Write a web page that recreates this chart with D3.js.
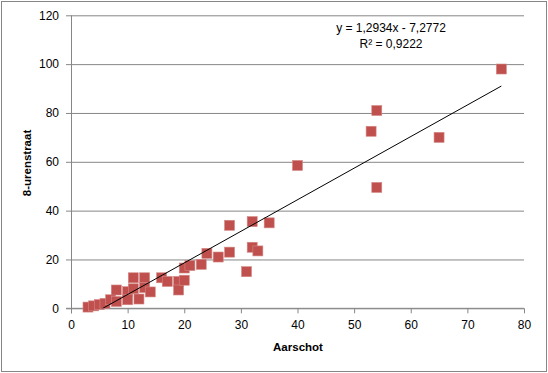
<!DOCTYPE html>
<html>
<head>
<meta charset="utf-8">
<script src="https://cdnjs.cloudflare.com/ajax/libs/d3/7.8.5/d3.min.js"></script>
<style>
	body { margin: 0; background: #fff; }
	#chart { position: relative; width: 548px; height: 373px; }
	#frame { position: absolute; left: 1px; top: 1px; width: 544px; height: 369px; border: 1px solid #868686; }
	svg { position: absolute; left: 0; top: 0; display: block; font-family: "Liberation Sans", Arial, sans-serif; }
	.tick text { font-size: 12px; fill: #000; }
	.axis-title { font-size: 11.5px; font-weight: bold; }
</style>
</head>
<body>
<div id="chart"><div id="frame"></div></div>
<script>
// Aarschot (x) vs 8-urenstraat (y)
var aarschot = [3, 4, 5, 6, 7, 8, 8, 10, 10, 11, 11, 12, 13, 13, 14,
		16, 17, 19, 19, 20, 20, 21, 23, 24, 26, 28, 28, 31, 32, 32, 33, 35,
		40, 53, 54, 54, 65, 76];
var urenstraat = [0.5, 1, 1.5, 2, 3.5, 2.8, 7.5, 6.8, 3.5, 12.5, 8, 3.8, 12.5, 8.5, 6.7,
		12.5, 11, 11, 7.5, 11.5, 16.5, 17.5, 18, 22.5, 21, 34, 23, 15, 35.5, 25, 23.5, 35,
		58.5, 72.5, 81, 49.5, 70, 98];
var xTicks = [0, 10, 20, 30, 40, 50, 60, 70, 80];
var yTicks = [0, 20, 40, 60, 80, 100, 120];

// trendline as printed on the chart
var slope = 1.2934,
		intercept = -7.2772,
		rSquared = 0.9222;

var width = 548,
		height = 373,
		margin = {top: 15.3, right: 24, bottom: 64.7, left: 71};

var innerWidth = width - margin.left - margin.right,
		innerHeight = height - margin.top - margin.bottom;

var xScale = d3.scaleLinear().domain([0, 80]).range([0, innerWidth]);
var yScale = d3.scaleLinear().domain([0, 120]).range([innerHeight, 0]);

var fmt = function(v) { return v.toFixed(4).replace(".", ","); };

var svg = d3.select("#chart").append("svg")
		.attr("width", width)
		.attr("height", height);

var g = svg.append("g")
		.attr("transform", "translate(" + margin.left + "," + margin.top + ")");

// y axis with gridlines
var yAxis = g.append("g")
		.attr("class", "y axis")
		.call(d3.axisLeft(yScale).tickValues(yTicks).tickSize(-innerWidth).tickPadding(12));
yAxis.select(".domain").remove();
yAxis.selectAll(".tick line")
		.attr("x1", -5)
		.style("stroke", "#868686");

// x axis
var xAxis = g.append("g")
		.attr("class", "x axis")
		.attr("transform", "translate(0," + innerHeight + ")")
		.call(d3.axisBottom(xScale).tickValues(xTicks).tickSize(5).tickPadding(7));
xAxis.select(".domain").remove();
xAxis.selectAll(".tick line").style("stroke", "#868686");

// axis lines
g.append("line")
		.attr("x1", 0.5).attr("x2", 0.5)
		.attr("y1", 0).attr("y2", innerHeight + 5)
		.style("stroke", "#868686");
g.append("line")
		.attr("x1", -5).attr("x2", innerWidth)
		.attr("y1", innerHeight).attr("y2", innerHeight)
		.style("stroke", "#868686");

// clip for trendline
g.append("clipPath").attr("id", "plot-clip")
	.append("rect")
		.attr("width", innerWidth)
		.attr("height", innerHeight);

// markers
var points = aarschot.map(function(d, i) { return {x: d, y: urenstraat[i]}; });

g.append("g").attr("class", "points")
	.selectAll("rect")
	.data(points)
	.enter().append("rect")
		.attr("x", function(d) { return xScale(d.x) - 5; })
		.attr("y", function(d) { return yScale(d.y) - 5; })
		.attr("width", 10)
		.attr("height", 10)
		.style("fill", "#c0504d")
		.style("stroke", "#d38886")
		.style("stroke-width", 0.6);

// linear trendline over data range
var xExtent = d3.extent(aarschot);
var line = d3.line()
		.x(function(d) { return xScale(d); })
		.y(function(d) { return yScale(slope * d + intercept); });

g.append("path")
		.datum(xExtent)
		.attr("clip-path", "url(#plot-clip)")
		.attr("d", line)
		.style("fill", "none")
		.style("stroke", "#000")
		.style("stroke-width", 1);

// equation label
var eq = g.append("text")
		.attr("x", 391 - margin.left)
		.attr("y", 32 - margin.top)
		.attr("text-anchor", "middle")
		.style("font-size", "12px");
eq.append("tspan")
		.text("y = " + fmt(slope) + "x - " + fmt(-intercept));
eq.append("tspan")
		.attr("x", 391 - margin.left)
		.attr("dy", 16)
		.text("R² = " + fmt(rSquared));

// axis titles
svg.append("text")
		.attr("class", "axis-title")
		.attr("x", 298)
		.attr("y", 351)
		.attr("text-anchor", "middle")
		.text("Aarschot");

svg.append("text")
		.attr("class", "axis-title")
		.attr("transform", "translate(31,163) rotate(-90)")
		.attr("text-anchor", "middle")
		.text("8-urenstraat");
</script>
</body>
</html>
